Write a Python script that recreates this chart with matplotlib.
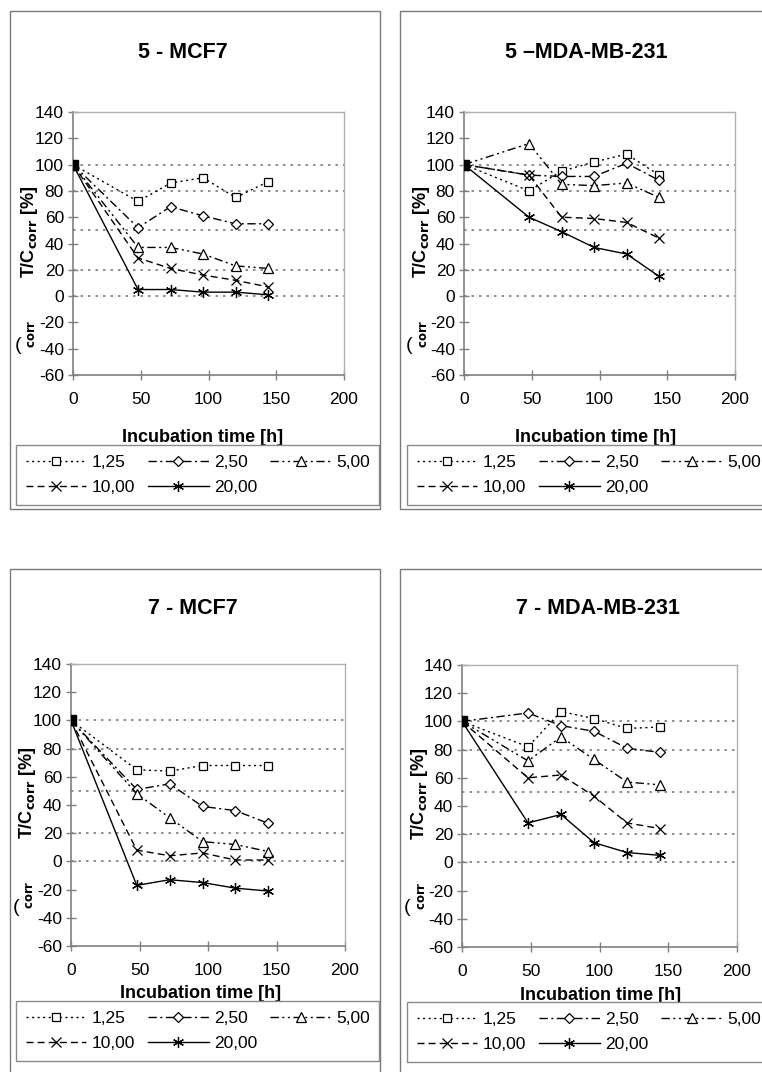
import matplotlib
matplotlib.use("Agg")
import matplotlib.pyplot as plt
from matplotlib.patches import Rectangle

plt.rcParams['font.family'] = ['Liberation Sans', 'DejaVu Sans']
plt.rcParams['axes.unicode_minus'] = False

W, H = 762, 1072

# incubation times [h]
times = [0, 48, 72, 96, 120, 144]
conc_labels = ["1,25", "2,50", "5,00", "10,00", "20,00"]
ref_lines = [100, 80, 50, 20, 0]

# T/C_corr [%] per concentration, one list per series
mcf7_5 = [
    [100, 72, 86, 90, 75, 87],
    [100, 52, 68, 61, 55, 55],
    [100, 37, 37, 32, 23, 21],
    [100, 29, 21, 16, 12, 7],
    [100, 5, 5, 3, 3, 1],
]
mda_5 = [
    [100, 80, 95, 102, 108, 92],
    [100, 92, 91, 91, 101, 88],
    [100, 116, 85, 84, 86, 75],
    [100, 92, 60, 59, 56, 44],
    [100, 60, 49, 37, 32, 15],
]
mcf7_7 = [
    [100, 65, 64, 68, 68, 68],
    [100, 51, 55, 39, 36, 27],
    [100, 48, 31, 14, 12, 7],
    [100, 8, 4, 6, 1, 1],
    [100, -17, -13, -15, -19, -21],
]
mda_7 = [
    [100, 82, 107, 102, 95, 96],
    [100, 106, 97, 93, 81, 78],
    [100, 72, 89, 73, 57, 55],
    [100, 60, 62, 47, 28, 24],
    [100, 28, 34, 14, 7, 5],
]

styles = [
    dict(ls=(0, (1.5, 2.5)), marker='s', ms=5.5, mfc='white'),
    dict(ls=(0, (6, 2.5, 1.5, 2.5)), marker='D', ms=5.5, mfc='white'),
    dict(ls=(0, (6, 2.5, 1.5, 2.5, 1.5, 2.5)), marker='^', ms=7, mfc='white'),
    dict(ls=(0, (5, 3)), marker='x', ms=7, mfc='white'),
    dict(ls='-', marker=(6, 2, 0), ms=8, mfc='black'),
]

fig = plt.figure(figsize=(W / 100, H / 100), dpi=100)


def px_rect(l, t, r, b):
    return [l / W, 1 - b / H, (r - l) / W, (b - t) / H]


def panel(data, title, ax_box, frame_box, title_xy, xlab_xy, leg_xy):
    # outer frame
    fl, ft, fr, fb = frame_box
    fig.add_artist(Rectangle((fl / W, 1 - fb / H), (fr - fl) / W, (fb - ft) / H,
                             transform=fig.transFigure, fill=False,
                             ec='#7a7a7a', lw=1.0))
    ax = fig.add_axes(px_rect(*ax_box))
    for y in ref_lines:
        ax.axhline(y, color='#7a7a7a', ls=(0, (1.5, 3)), lw=1.2, zorder=1)
    handles = []
    for vals, st, lab in zip(data, styles, conc_labels):
        h, = ax.plot(times, vals, color='black', lw=1.0, ls=st['ls'],
                     marker=st['marker'], ms=st['ms'], mfc=st['mfc'],
                     mec='black', mew=0.9, label=lab, zorder=3)
        handles.append(h)
    # overlapping start point looks like a filled square
    ax.plot(times[:1], data[0][:1], 's', color='black', ms=7, zorder=4)
    ax.set_xlim(0, 200)
    ax.set_ylim(-60, 140)
    ax.set_xticks([0, 50, 100, 150, 200])
    ax.set_yticks(range(-60, 141, 20))
    ax.tick_params(direction='inout', length=7, width=1, color='#808080',
                   labelsize=12.5, pad=3)
    ax.tick_params(axis='x', pad=9)
    for s in ['left', 'bottom']:
        ax.spines[s].set_color('#808080')
        ax.spines[s].set_linewidth(1.2)
    for s in ['top', 'right']:
        ax.spines[s].set_color('#b0b0b0')
        ax.spines[s].set_linewidth(1.0)
    fig.text(title_xy[0] / W, 1 - title_xy[1] / H, title, ha='center',
             va='center', fontsize=15.5, fontweight='bold')
    fig.text(xlab_xy[0] / W, 1 - xlab_xy[1] / H, "Incubation time [h]",
             ha='center', va='center', fontsize=13, fontweight='bold')
    # y label (plus the clipped remnant below it)
    axl = ax_box[0]
    yc = (ax_box[1] + ax_box[3]) / 2
    fig.text((axl - 43) / W, 1 - (yc - 12) / H, "T/C$_{\\mathbf{corr}}$ [%]",
             rotation=90, ha='center', va='center', fontsize=13,
             fontweight='bold')
    fig.text((axl - 42) / W, 1 - (yc + 90) / H, "$_{\\mathbf{corr}}$",
             rotation=90, ha='center', va='center', fontsize=12)
    fig.text((axl - 55) / W, 1 - (yc + 102) / H, "(", ha='center',
             va='center', fontsize=14)
    order = [0, 3, 1, 4, 2]
    leg = fig.legend([handles[i] for i in order],
                     [conc_labels[i] for i in order], ncol=3,
                     loc='upper left',
                     bbox_to_anchor=(leg_xy[0] / W, 1 - leg_xy[1] / H),
                     fontsize=12.5, handlelength=3.5, handletextpad=0.3,
                     columnspacing=0.75, borderpad=0.55, borderaxespad=0,
                     labelspacing=0.6,
                     fancybox=False, framealpha=1, edgecolor='#8a8a8a')
    leg.get_frame().set_linewidth(1.0)
    return ax


panel(mcf7_5, "5 - MCF7", (73, 112, 344, 375), (10, 11, 380, 509),
      (183, 52), (203, 437), (16, 445))
panel(mda_5, "5 \u2013MDA-MB-231", (464, 112, 735, 375), (400, 11, 770, 509),
      (586, 52), (596, 437), (407, 445))
panel(mcf7_7, "7 - MCF7", (71, 664, 345, 946), (10, 569, 380, 1080),
      (193, 609), (201, 993), (16, 1001))
panel(mda_7, "7 - MDA-MB-231", (462, 665, 737, 947), (400, 569, 770, 1080),
      (598, 609), (601, 996), (407, 1002))

fig.savefig("out.png", dpi=100)
